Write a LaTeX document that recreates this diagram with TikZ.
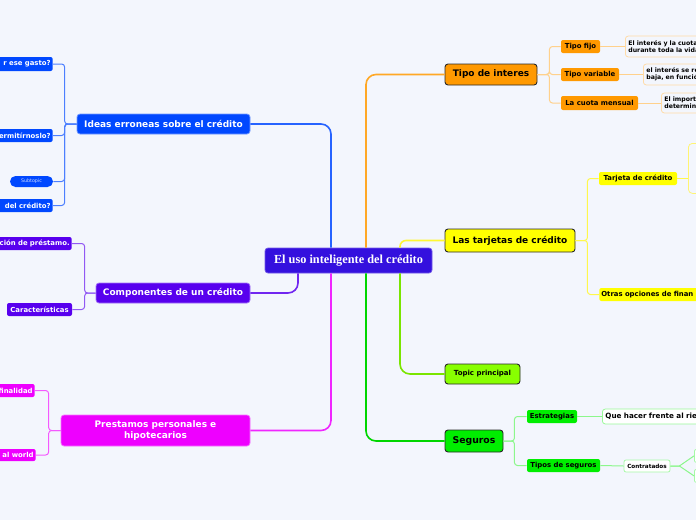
\documentclass[tikz,border=0pt]{standalone}
\usepackage{fontspec}
\setsansfont{DejaVu Sans}
\newfontfamily\rootfont{Liberation Serif}

\definecolor{bgcol}{RGB}{243,246,253}
\definecolor{rootcol}{RGB}{52,16,222}
\definecolor{bluecol}{RGB}{0,72,255}
\definecolor{purplecol}{RGB}{88,0,238}
\definecolor{magcol}{RGB}{238,0,255}
\definecolor{orangecol}{RGB}{255,153,0}
\definecolor{yellowcol}{RGB}{255,255,0}
\definecolor{limecol}{RGB}{136,255,0}
\definecolor{greencol}{RGB}{0,238,0}
\definecolor{darkline}{RGB}{40,40,40}

\tikzset{every picture/.style={line width=0.75pt}}
\tikzset{
  rootbox/.style={fill=rootcol, draw=rootcol!70!white, rounded corners=3pt, text=white,
    font=\rootfont\bfseries\fontsize{12.3}{14}\selectfont},
  leftbox/.style={rounded corners=3pt, text=white, align=center, inner sep=1pt,
    font=\sffamily\bfseries\fontsize{9}{11}\selectfont},
  rightbox/.style={draw=darkline, line width=0.9pt, rounded corners=3pt, text=black, inner sep=1pt,
    font=\sffamily\bfseries\fontsize{9}{10}\selectfont},
  subbox/.style={rounded corners=2pt, inner xsep=2pt, inner ysep=0pt, minimum height=13,
    font=\sffamily\bfseries\fontsize{6.9}{8}\selectfont},
  cutleft/.style={subbox, anchor=east, text width=80, align=right, text=white},
  leafbox/.style={draw, fill=bgcol, rounded corners=3pt, anchor=west, align=left, text=black,
    inner xsep=3pt, inner ysep=1pt, text width=90, font=\sffamily\bfseries\fontsize{6.2}{7.2}\selectfont},
  branch/.style={line width=1.6pt, rounded corners=10pt},
  subline/.style={line width=1pt, rounded corners=3pt}
}

\begin{document}
\begin{tikzpicture}[x=1pt,y=1pt,yscale=-1,xscale=1]
		\useasboundingbox (0,0) rectangle (696,520);
		\fill [bgcol] (0,0) rectangle (696,520);

		% central topic
		\node (root) at (348.5,260.5) [rootbox, minimum width=167, minimum height=25] {El uso inteligente del crédito};

		% left side
		\node (ideas) at (163.5,124) [leftbox, fill=bluecol, draw=bluecol!55!white, minimum width=173, minimum height=20] {Ideas erroneas sobre el crédito};
		\node (comp) at (173,293) [leftbox, fill=purplecol, draw=purplecol!55!white, minimum width=154, minimum height=20] {Componentes de un crédito};
		\node (prest) at (155.5,430.5) [leftbox, fill=magcol, draw=magcol!55!white, minimum width=189, minimum height=31] {Prestamos personales e\\hipotecarios};

		\node (gasto) at (53,64) [cutleft, fill=bluecol, minimum height=14] {r ese gasto?};
		\node (permit) at (53,135.5) [cutleft, fill=bluecol] {ermitírnoslo?};
		\node (subt) at (31.5,181.5) [fill=bluecol, rounded corners=5.5pt, minimum width=43, minimum height=11, inner sep=0pt, text=bluecol!20!white, font=\sffamily\fontsize{4.8}{5}\selectfont] {Subtopic};
		\node (delcred) at (53,205.5) [cutleft, fill=bluecol] {del crédito?};

		\node (prestamo) at (72,243.5) [cutleft, fill=purplecol] {ción de préstamo.};
		\node (caract) at (39.5,309.5) [subbox, fill=purplecol, text=white, minimum width=65] {Características};

		\node (final) at (35,390.5) [cutleft, fill=magcol] {finalidad};
		\node (world) at (36,455) [cutleft, fill=magcol, minimum height=12] {al world};

		% right side
		\node (tipo) at (491,74.5) [rightbox, fill=orangecol, minimum width=92, minimum height=21] {Tipo de interes};
		\node (tarj) at (510,240.5) [rightbox, fill=yellowcol, minimum width=130, minimum height=23] {Las tarjetas de crédito};
		\node (topic) at (482.5,374) [rightbox, fill=limecol, minimum width=75, minimum height=20, font=\sffamily\bfseries\fontsize{7}{8}\selectfont] {Topic principal};
		\node (seg) at (474,441) [rightbox, fill=greencol, minimum width=58, minimum height=22, font=\sffamily\bfseries\fontsize{9.3}{10}\selectfont] {Seguros};

		\node (fijo) at (580.5,46.5) [subbox, fill=orangecol, minimum width=39] {Tipo fijo};
		\node (vari) at (590,74.5) [subbox, fill=orangecol, minimum width=58] {Tipo variable};
		\node (cuota) at (599.5,103) [subbox, fill=orangecol, minimum width=77, minimum height=14] {La cuota mensual};
		\node (fijoleaf) at (625,46.5) [leafbox, draw=orangecol!35!white, minimum height=21] {El interés y la cuota\\durante toda la vida};
		\node (varileaf) at (643,74.5) [leafbox, draw=orangecol!35!white, minimum height=21] {el interés se re\\baja, en funció};
		\node (cuotaleaf) at (661,103) [leafbox, draw=orangecol!35!white, minimum height=20] {El import\\determin};

		\node (tarjeta) at (638,178.5) [subbox, fill=yellowcol, minimum width=78] {Tarjeta de crédito};
		\node (tarjleaf) at (688,143) [draw=yellowcol!80!orangecol!55!white, fill=bgcol, rounded corners=4pt, anchor=north west, minimum width=40, minimum height=50] {};
		\node (otras) at (599,294.5) [subbox, fill=yellowcol, anchor=west, text width=110, align=left] {Otras opciones de finan};

		\node (estr) at (552,416.5) [subbox, fill=greencol, minimum width=50] {Estrategias};
		\node (queleaf) at (602,416.5) [leafbox, draw=greencol!40!white, fill=white, text width=130, minimum height=15, font=\sffamily\bfseries\fontsize{7.2}{8}\selectfont] {Que hacer frente al ries};
		\node (tiposeg) at (563.5,465.5) [subbox, fill=greencol, minimum width=73] {Tipos de seguros};
		\node (contr) at (647,466) [draw=greencol!35!white, fill=white, rounded corners=2pt, minimum width=46, minimum height=12, inner sep=0pt, font=\sffamily\bfseries\fontsize{5.7}{6.5}\selectfont] {Contratados};
		\node (contra) at (694,449) [draw=greencol!35!white, fill=white, rounded corners=2pt, anchor=north west, minimum width=20, minimum height=13] {};
		\node (contrb) at (694,469) [draw=greencol!35!white, fill=white, rounded corners=2pt, anchor=north west, minimum width=20, minimum height=13] {};

		% branches from the central topic
		\draw [branch, bluecol!85!white] ([xshift=-17.5]root.north) |- (ideas.east);
		\draw [branch, purplecol!85!white] ([xshift=-50.5]root.south) |- (comp.east);
		\draw [branch, magcol!85!white] ([xshift=-17.5]root.south) |- (prest.east);
		\draw [branch, orangecol!85!white] ([xshift=17.5]root.north) |- (tipo.west);
		\draw [branch, rounded corners=6pt, yellowcol!90!orangecol!80!white] ([xshift=51.5]root.north) |- (tarj.west);
		\draw [branch, limecol!90!black] ([xshift=51.5]root.south) |- (topic.west);
		\draw [branch, greencol!90!black] ([xshift=17.5]root.south) |- (seg.west);

		% sub branches
		\draw [subline, bluecol!70!white] (ideas.west) -- ++(-12,0) |- (gasto.east);
		\draw [subline, bluecol!70!white] (ideas.west) -- ++(-12,0) |- (permit.east);
		\draw [subline, bluecol!70!white] (ideas.west) -- ++(-12,0) |- (subt.east);
		\draw [subline, bluecol!70!white] (ideas.west) -- ++(-12,0) |- (delcred.east);
		\draw [subline, purplecol!65!white] (comp.west) -- ++(-11,0) |- (prestamo.east);
		\draw [subline, purplecol!65!white] (comp.west) -- ++(-11,0) |- (caract.east);
		\draw [subline, magcol!65!white] (prest.west) -- ++(-12,0) |- (final.east);
		\draw [subline, magcol!65!white] (prest.west) -- ++(-12,0) |- (world.east);

		\draw [subline, orangecol!45!white] (tipo.east) -- ++(12,0) |- (fijo.west);
		\draw [subline, orangecol!45!white] (tipo.east) -- ++(12,0) |- (vari.west);
		\draw [subline, orangecol!45!white] (tipo.east) -- ++(12,0) |- (cuota.west);
		\draw [subline, orangecol!45!white] (fijo.east) -- (fijoleaf.west);
		\draw [subline, orangecol!45!white] (vari.east) -- (varileaf.west);
		\draw [subline, orangecol!45!white] (cuota.east) -- (cuotaleaf.west);

		\draw [subline, yellowcol!90!orangecol!70!white] (tarj.east) -- ++(12,0) |- (tarjeta.west);
		\draw [subline, yellowcol!90!orangecol!70!white] (tarj.east) -- ++(12,0) |- (otras.west);
		\draw [subline, yellowcol!90!orangecol!70!white] (tarjeta.east) -- (tarjeta.east -| tarjleaf.west);

		\draw [subline, greencol!45!white] (seg.east) -- ++(11,0) |- (estr.west);
		\draw [subline, greencol!45!white] (seg.east) -- ++(11,0) |- (tiposeg.west);
		\draw [subline, greencol!45!white] (estr.east) -- (queleaf.west);
		\draw [subline, greencol!45!white] (tiposeg.east) -- (contr.west);
		\draw [subline, rounded corners=0pt, greencol!45!white] (contr.east) -- ++(9,0) -- (contra.west);
		\draw [subline, rounded corners=0pt, greencol!45!white] (contr.east) -- ++(9,0) -- (contrb.west);

		\end{tikzpicture}
\end{document}
